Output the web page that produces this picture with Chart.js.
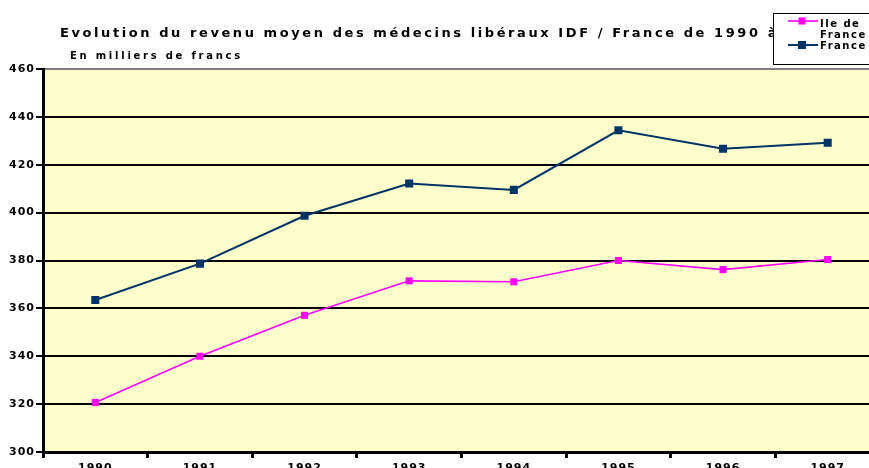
<!DOCTYPE html>
<html>
<head>
<meta charset="utf-8">
<script src="https://cdn.jsdelivr.net/npm/chart.js@4"></script>
<style>
  html, body { margin: 0; padding: 0; background: #fff; overflow: hidden; }
  #wrap { width: 890px; height: 490px; }
</style>
</head>
<body>
<div id="wrap"><canvas id="revenu" width="890" height="490"></canvas></div>
<script>
var years   = ['1990', '1991', '1992', '1993', '1994', '1995', '1996', '1997'];
var idf     = [320.7, 340.0, 357.1, 371.5, 371.1, 380.0, 376.2, 380.4];
var france  = [363.5, 378.7, 398.7, 412.2, 409.5, 434.4, 426.7, 429.2];
var yMin = 300, yMax = 460, yStep = 20;

var titleText    = 'Evolution du revenu moyen des médecins libéraux IDF / France de 1990 à 1997';
var subtitleText = 'En milliers de francs';
var legendLines  = [['Ile de', 'France'], ['France']];

var FONT = '"DejaVu Sans", sans-serif';

// yellow plot background + text spacing for everything drawn by the chart
var backdrop = {
    id: 'backdrop',
    beforeDraw: function(chart) {
        var ctx = chart.ctx, a = chart.chartArea;
        ctx.save();
        ctx.fillStyle = '#ffffcc';
        ctx.fillRect(a.left, a.top, a.right - a.left, a.bottom - a.top);
        ctx.restore();
        ctx.letterSpacing = '1px';
    }
};

// title, subtitle and the boxed legend sitting over the end of the title
var headings = {
    id: 'headings',
    afterDraw: function(chart) {
        var ctx = chart.ctx;
        ctx.save();
        ctx.fillStyle = '#000';
        ctx.textBaseline = 'alphabetic';
        ctx.textAlign = 'left';

        ctx.font = 'bold 13px ' + FONT;
        ctx.letterSpacing = '2.58px';
        ctx.fillText(titleText, 60, 37);

        ctx.font = 'bold 10px ' + FONT;
        ctx.letterSpacing = '2.75px';
        ctx.fillText(subtitleText, 70, 59);

        // legend box
        ctx.fillStyle = '#fff';
        ctx.fillRect(773, 13, 130, 52);
        ctx.strokeStyle = '#000';
        ctx.lineWidth = 1;
        ctx.strokeRect(773.5, 13.5, 130, 51);

        var rows = [21, 45];
        var textRows = [[26.5, 37.5], [49]];
        chart.data.datasets.forEach(function(ds, i) {
            var y = rows[i];
            ctx.strokeStyle = ds.borderColor;
            ctx.lineWidth = ds.borderWidth;
            ctx.beginPath();
            ctx.moveTo(788, y);
            ctx.lineTo(818, y);
            ctx.stroke();
            var s = ds.pointRadius * Math.SQRT1_2;
            ctx.fillStyle = ds.backgroundColor;
            ctx.fillRect(802 - s, y - s, 2 * s, 2 * s);

            ctx.fillStyle = '#000';
            ctx.font = 'bold 10px ' + FONT;
            ctx.letterSpacing = '1.5px';
            legendLines[i].forEach(function(line, j) {
                ctx.fillText(line, 820, textRows[i][j]);
            });
        });
        ctx.restore();
    }
};

var context = document.getElementById('revenu').getContext('2d');
var chart = new Chart(context, {
    type: 'line',
    data: {
        labels: years,
        datasets: [
            {
                label: 'Ile de France',
                data: idf,
                borderColor: '#ff00ff',
                backgroundColor: '#ff00ff',
                borderWidth: 1.6,
                pointStyle: 'rect',
                pointRadius: 5,
                pointHoverRadius: 5,
                pointBorderWidth: 0,
                tension: 0
            },
            {
                label: 'France',
                data: france,
                borderColor: '#003366',
                backgroundColor: '#003366',
                borderWidth: 2,
                pointStyle: 'rect',
                pointRadius: 5.7,
                pointHoverRadius: 5.7,
                pointBorderWidth: 0,
                tension: 0
            }
        ]
    },
    options: {
        responsive: false,
        animation: false,
        events: [],
        layout: { padding: { top: 69, right: 10, left: 0, bottom: 0 } },
        plugins: {
            legend: { display: false },
            title: { display: false },
            tooltip: { enabled: false }
        },
        scales: {
            x: {
                offset: true,
                afterFit: function(scale) { scale.height = 38; },
                grid: {
                    offset: true,
                    drawOnChartArea: false,
                    drawTicks: true,
                    tickLength: 6,
                    tickWidth: 3,
                    tickColor: '#000'
                },
                border: { display: true, color: '#000', width: 3 },
                ticks: {
                    color: '#000',
                    padding: 4,
                    maxRotation: 0,
                    font: { family: FONT, size: 11, weight: 'bold' }
                }
            },
            y: {
                min: yMin,
                max: yMax,
                afterFit: function(scale) { scale.width = 43; },
                grid: {
                    color: function(c) { return c.tick && c.tick.value === yMax ? '#808080' : '#000'; },
                    lineWidth: 2,
                    drawTicks: true,
                    tickLength: 7,
                    tickColor: '#000'
                },
                border: { display: true, color: '#000', width: 3 },
                ticks: {
                    stepSize: yStep,
                    color: '#000',
                    padding: 1,
                    font: { family: FONT, size: 11, weight: 'bold' }
                }
            }
        }
    },
    plugins: [backdrop, headings]
});
</script>
</body>
</html>
